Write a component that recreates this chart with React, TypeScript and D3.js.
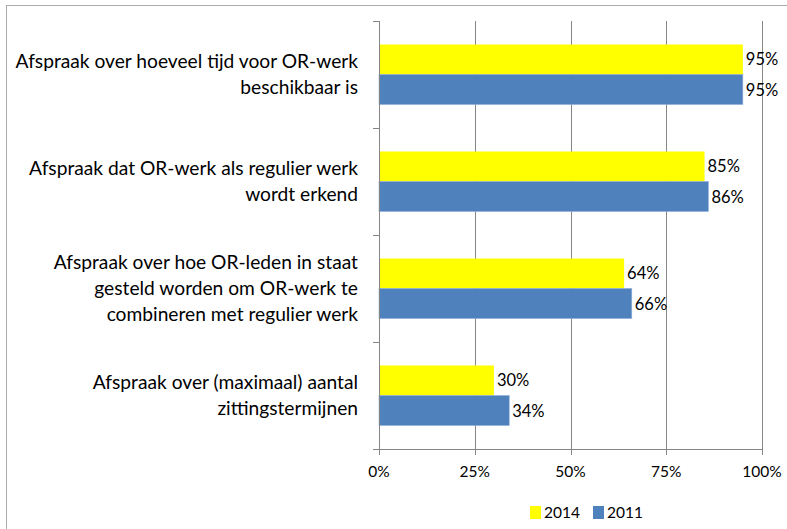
import React from "react";
import * as d3 from "d3";

const categories: string[][] = [
  ["Afspraak over hoeveel tijd voor OR-werk", "beschikbaar is"],
  ["Afspraak dat OR-werk als regulier werk", "wordt erkend"],
  ["Afspraak over hoe OR-leden in staat", "gesteld worden om OR-werk te", "combineren met regulier werk"],
  ["Afspraak over (maximaal) aantal", "zittingstermijnen"],
];
const seriesNames = ["2014", "2011"];
const values2014 = [95, 85, 64, 30];
const values2011 = [95, 86, 66, 34];
const tickValues = [0, 25, 50, 75, 100];
const colors = ["#FFFF00", "#4F81BD"];

const FONT = "Lato, 'Liberation Sans', sans-serif";

export default function App() {
  const W = 787, H = 529;
  const left = 379, right = 762, top = 21, bottom = 449;
  const x = d3.scaleLinear().domain([0, 100]).range([left, right]);
  const y = d3.scaleBand<number>().domain(d3.range(categories.length)).range([top, bottom]).padding(0);
  const sub = d3.scaleBand<string>().domain(seriesNames).range([0, y.bandwidth()]).paddingInner(0).paddingOuter(0.783);
  const series = [values2014, values2011];
  const lineH = 26;

  return (
    <svg width={W} height={H} style={{ position: "absolute", left: 0, top: 0, background: "#fff" }} fontFamily={FONT}>
      <rect x={6.5} y={5.5} width={900} height={700} fill="#fff" stroke="#ABABAB" strokeWidth={1} />
      {/* gridlines */}
      {tickValues.slice(1).map((t) => (
        <line key={"g" + t} x1={Math.round(x(t)) + 0.5} x2={Math.round(x(t)) + 0.5} y1={top} y2={bottom} stroke="#868686" strokeWidth={1} />
      ))}
      {/* bars */}
      {categories.map((_, i) =>
        series.map((vals, s) => (
          <rect
            key={`b${i}-${s}`}
            x={x(0)}
            y={(y(i) as number) + (sub(seriesNames[s]) as number)}
            width={x(vals[i]) - x(0)}
            height={sub.bandwidth()}
            fill={colors[s]}
            stroke={s === 1 ? "#8EAEDB" : "none"}
            strokeWidth={0.6}
          />
        ))
      )}
      {/* axes */}
      <line x1={left + 0.5} x2={left + 0.5} y1={top} y2={bottom} stroke="#868686" />
      <line x1={left - 6} x2={right} y1={bottom + 0.5} y2={bottom + 0.5} stroke="#868686" />
      {d3.range(categories.length + 1).map((k) => {
        const yy = Math.round(top + k * y.step()) + 0.5;
        return <line key={"lt" + k} x1={left - 6} x2={left} y1={yy} y2={yy} stroke="#868686" />;
      })}
      {tickValues.map((t) => (
        <g key={"t" + t}>
          <line x1={Math.round(x(t)) + 0.5} x2={Math.round(x(t)) + 0.5} y1={bottom} y2={bottom + 6} stroke="#868686" />
          <text x={x(t)} y={477} textAnchor="middle" fontSize={15.5} fill="#000">{t}%</text>
        </g>
      ))}
      {/* category labels */}
      {categories.map((lines, i) => {
        const c = (y(i) as number) + y.bandwidth() / 2;
        return (
          <text key={"c" + i} textAnchor="end" fontSize={19.2} fill="#000">
            {lines.map((ln, j) => (
              <tspan key={j} x={358} y={c + (j - (lines.length - 1) / 2) * lineH + 6.5}>{ln}</tspan>
            ))}
          </text>
        );
      })}
      {/* value labels */}
      {categories.map((_, i) =>
        series.map((vals, s) => (
          <text
            key={`v${i}-${s}`}
            x={x(vals[i]) + 3}
            y={(y(i) as number) + (sub(seriesNames[s]) as number) + sub.bandwidth() / 2 + 6}
            fontSize={16.5}
            fill="#000"
          >
            {vals[i]}%
          </text>
        ))
      )}
      {/* legend */}
      {seriesNames.map((n, s) => {
        const lx = [530, 593][s];
        return (
          <g key={"l" + n}>
            <rect x={lx} y={506} width={11} height={13} fill={colors[s]} />
            <text x={lx + 14} y={518} fontSize={15.5} fill="#000">{n}</text>
          </g>
        );
      })}
    </svg>
  );
}
